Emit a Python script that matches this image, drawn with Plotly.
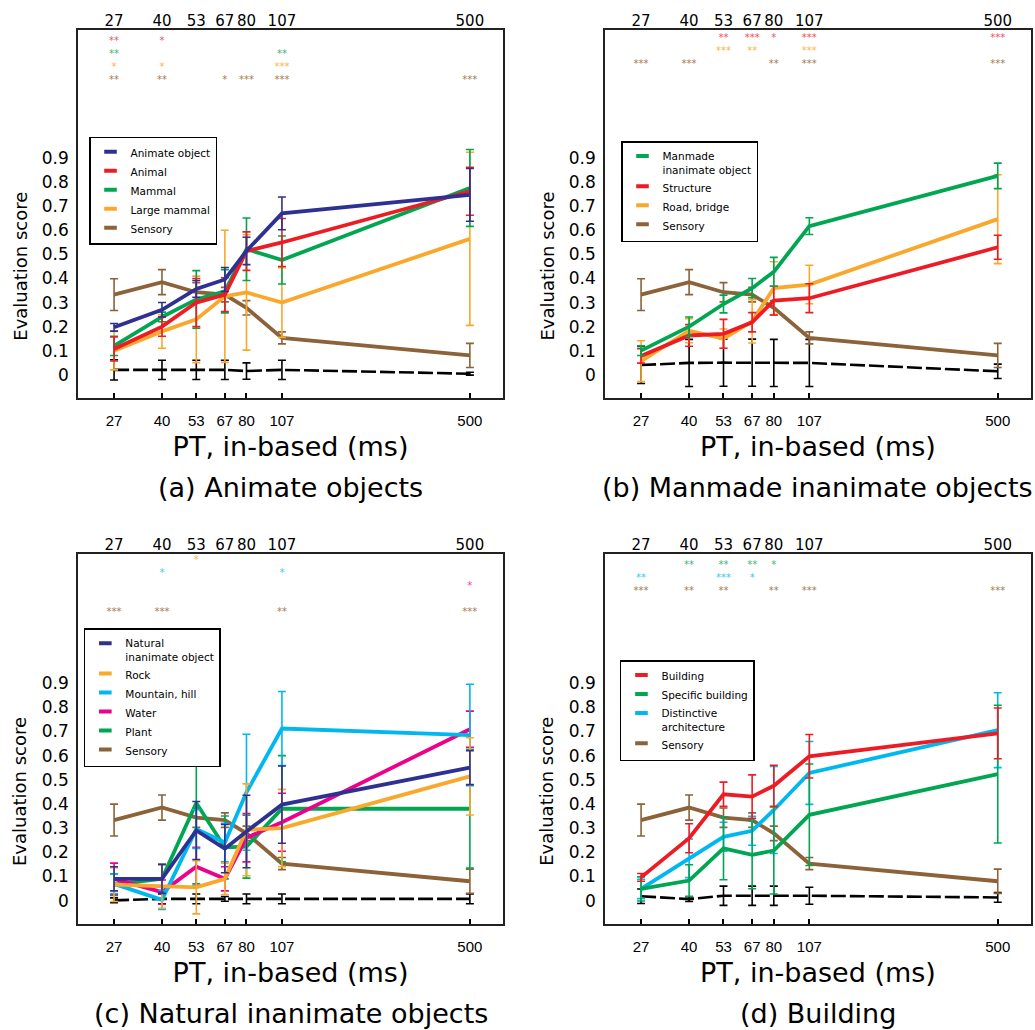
import plotly.graph_objects as go

# ---------------- data ----------------
pt_ms = [27, 40, 53, 67, 80, 107, 500]
pt_labels = ["27", "40", "53", "67", "80", "107", "500"]
y_tick_vals = [0, 0.1, 0.2, 0.3, 0.4, 0.5, 0.6, 0.7, 0.8, 0.9]
y_tick_labels = ["0", "0.1", "0.2", "0.3", "0.4", "0.5", "0.6", "0.7", "0.8", "0.9"]

sensory = [0.333, 0.385, 0.343, 0.333, 0.278, 0.153, 0.080]
sensory_err = [0.066, 0.052, 0.040, 0.030, 0.030, 0.025, 0.050]

# (a) Animate objects
a_chance = [0.020, 0.020, 0.020, 0.020, 0.015, 0.020, 0.004]
a_chance_err = [0.042, 0.040, 0.040, 0.040, 0.034, 0.040, 0.006]
a_animate = [0.197, 0.270, 0.357, 0.396, 0.515, 0.671, 0.748]
a_animate_err = [0.016, 0.030, 0.035, 0.050, 0.057, 0.068, 0.110]
a_animal = [0.107, 0.200, 0.300, 0.333, 0.514, 0.550, 0.763]
a_animal_err = [0.050, 0.040, 0.100, 0.070, 0.080, 0.100, 0.100]
a_mammal = [0.120, 0.240, 0.313, 0.347, 0.522, 0.477, 0.777]
a_mammal_err = [0.040, 0.020, 0.120, 0.090, 0.130, 0.100, 0.160]
a_large = [0.100, 0.180, 0.230, 0.326, 0.342, 0.300, 0.565]
a_large_err = [0.080, 0.070, 0.180, 0.275, 0.240, 0.145, 0.360]
a_stars_animal = ["**", "*", "", "", "", "", ""]
a_stars_mammal = ["**", "", "", "", "", "**", ""]
a_stars_large = ["*", "*", "", "", "", "***", ""]
a_stars_sensory = ["**", "**", "", "*", "***", "***", "***"]

# (b) Manmade inanimate objects
b_chance = [0.040, 0.049, 0.050, 0.050, 0.049, 0.049, 0.014]
b_chance_err = [0.077, 0.098, 0.098, 0.098, 0.098, 0.098, 0.030]
b_manmade = [0.100, 0.200, 0.294, 0.360, 0.428, 0.618, 0.827]
b_manmade_err = [0.020, 0.040, 0.037, 0.040, 0.060, 0.035, 0.053]
b_structure = [0.078, 0.163, 0.170, 0.218, 0.308, 0.318, 0.530]
b_structure_err = [0.030, 0.045, 0.060, 0.040, 0.060, 0.060, 0.050]
b_road = [0.056, 0.183, 0.150, 0.222, 0.360, 0.375, 0.647]
b_road_err = [0.085, 0.050, 0.040, 0.090, 0.110, 0.080, 0.185]
b_stars_structure = ["", "", "**", "***", "*", "***", "***"]
b_stars_road = ["", "", "***", "**", "", "***", ""]
b_stars_sensory = ["***", "***", "", "", "**", "***", "***"]

# (c) Natural inanimate objects
c_chance = [0.001, 0.007, 0.007, 0.007, 0.007, 0.007, 0.007]
c_chance_err = [0.010, 0.020, 0.020, 0.010, 0.020, 0.020, 0.020]
c_natural = [0.090, 0.090, 0.290, 0.215, 0.286, 0.397, 0.550]
c_natural_err = [0.050, 0.060, 0.120, 0.100, 0.150, 0.160, 0.070]
c_rock = [0.066, 0.058, 0.055, 0.090, 0.293, 0.300, 0.514]
c_rock_err = [0.070, 0.090, 0.110, 0.065, 0.190, 0.160, 0.160]
c_mountain = [0.069, 0.003, 0.296, 0.240, 0.448, 0.712, 0.685]
c_mountain_err = [0.040, 0.040, 0.080, 0.080, 0.240, 0.153, 0.210]
c_water = [0.090, 0.035, 0.140, 0.090, 0.260, 0.324, 0.709]
c_water_err = [0.065, 0.050, 0.080, 0.050, 0.100, 0.120, 0.075]
c_plant = [0.066, 0.090, 0.404, 0.220, 0.223, 0.380, 0.380]
c_plant_err = [0.045, 0.060, 0.335, 0.130, 0.130, 0.220, 0.245]
c_stars_rock = ["", "", "*", "", "", "", ""]
c_stars_mountain = ["", "*", "", "", "", "*", ""]
c_stars_water = ["", "", "", "", "", "", "*"]
c_stars_plant = ["", "", "", "", "", "", ""]
c_stars_sensory = ["***", "***", "", "", "", "**", "***"]

# (d) Building
d_chance = [0.018, 0.006, 0.020, 0.020, 0.020, 0.020, 0.013]
d_chance_err = [0.030, 0.010, 0.040, 0.040, 0.040, 0.035, 0.020]
d_building = [0.096, 0.258, 0.440, 0.430, 0.475, 0.597, 0.692]
d_building_err = [0.016, 0.060, 0.050, 0.090, 0.085, 0.090, 0.105]
d_specific = [0.048, 0.083, 0.216, 0.189, 0.207, 0.355, 0.523]
d_specific_err = [0.050, 0.065, 0.130, 0.140, 0.180, 0.210, 0.285]
d_distinct = [0.048, 0.175, 0.264, 0.289, 0.375, 0.528, 0.705]
d_distinct_err = [0.040, 0.080, 0.060, 0.060, 0.180, 0.130, 0.155]
d_stars_specific = ["", "**", "**", "**", "*", "", ""]
d_stars_distinct = ["**", "", "***", "*", "", "", ""]
d_stars_sensory = ["***", "**", "**", "", "**", "***", "***"]

# ---------------- styles ----------------
NAVY = "#2e3192"
RED = "#ed1c24"
GREEN = "#00a651"
ORANGE = "#f9a82b"
BROWN = "#8c6239"
CYAN = "#00b7ef"
MAGENTA = "#ec008c"
STAR_COL = {NAVY: "#5a5fb0", RED: "#f0505a", GREEN: "#3cb878", ORANGE: "#fbb44a",
            BROWN: "#a67c52", CYAN: "#3cc8f4", MAGENTA: "#f040a8"}

panels = [
    dict(series=[("Animate object", NAVY, a_animate, a_animate_err),
                 ("Animal", RED, a_animal, a_animal_err),
                 ("Mammal", GREEN, a_mammal, a_mammal_err),
                 ("Large mammal", ORANGE, a_large, a_large_err),
                 ("Sensory", BROWN, sensory, sensory_err)],
         chance=(a_chance, a_chance_err),
         stars=[(RED, a_stars_animal), (GREEN, a_stars_mammal),
                (ORANGE, a_stars_large), (BROWN, a_stars_sensory)],
         star_top=1.386, caption="(a) Animate objects"),
    dict(series=[("Manmade<br>inanimate object", GREEN, b_manmade, b_manmade_err),
                 ("Structure", RED, b_structure, b_structure_err),
                 ("Road, bridge", ORANGE, b_road, b_road_err),
                 ("Sensory", BROWN, sensory, sensory_err)],
         chance=(b_chance, b_chance_err),
         stars=[(RED, b_stars_structure), (ORANGE, b_stars_road), (BROWN, b_stars_sensory)],
         star_top=1.398, caption="(b) Manmade inanimate objects"),
    dict(series=[("Natural<br>inanimate object", NAVY, c_natural, c_natural_err),
                 ("Rock", ORANGE, c_rock, c_rock_err),
                 ("Mountain, hill", CYAN, c_mountain, c_mountain_err),
                 ("Water", MAGENTA, c_water, c_water_err),
                 ("Plant", GREEN, c_plant, c_plant_err),
                 ("Sensory", BROWN, sensory, sensory_err)],
         chance=(c_chance, c_chance_err),
         stars=[(ORANGE, c_stars_rock), (CYAN, c_stars_mountain), (MAGENTA, c_stars_water),
                (GREEN, c_stars_plant), (BROWN, c_stars_sensory)],
         star_top=1.407, caption="(c) Natural inanimate objects"),
    dict(series=[("Building", RED, d_building, d_building_err),
                 ("Specific building", GREEN, d_specific, d_specific_err),
                 ("Distinctive<br>architecture", CYAN, d_distinct, d_distinct_err),
                 ("Sensory", BROWN, sensory, sensory_err)],
         chance=(d_chance, d_chance_err),
         stars=[(GREEN, d_stars_specific), (CYAN, d_stars_distinct), (BROWN, d_stars_sensory)],
         star_top=1.386, caption="(d) Building"),
]

dom_x = [[0.0754, 0.4860], [0.5845, 0.9961], [0.0754, 0.4860], [0.5845, 0.9961]]
dom_y = [[0.6136, 0.9709], [0.6136, 0.9709], [0.1029, 0.4621], [0.1029, 0.4621]]
legend_pos = [(0.086, 0.867), (0.600, 0.863), (0.081, 0.390), (0.599, 0.359)]
x_range = [1.303, 2.817]
y_range = [-0.097, 1.434]
star_step = 0.054

fig = go.Figure()
layout = dict(width=1035, height=1030, margin=dict(l=0, r=0, t=0, b=0),
              paper_bgcolor="white", plot_bgcolor="white", showlegend=True,
              font=dict(family="DejaVu Sans", color="black"), annotations=[])

for i, p in enumerate(panels):
    s = i + 1
    sx = "" if s == 1 else str(s)
    xa, ya, xt = f"x{sx}", f"y{sx}", f"x{s + 4}"
    lg = "legend" if s == 1 else f"legend{s}"

    ch, ch_err = p["chance"]
    fig.add_trace(go.Scatter(
        x=pt_ms, y=ch, mode="lines", xaxis=xa, yaxis=ya, showlegend=False,
        line=dict(color="black", width=2.6, dash="15px,4px"),
        error_y=dict(type="data", array=ch_err, color="black", thickness=1.6, width=4),
        hoverinfo="skip"))
    for name, col, vals, errs in reversed(p["series"]):
        fig.add_trace(go.Scatter(
            x=pt_ms, y=vals, mode="lines", xaxis=xa, yaxis=ya, showlegend=False,
            line=dict(color=col, width=3.8),
            error_y=dict(type="data", array=errs, color=col, thickness=1.6, width=4),
            name=name.replace("<br>", " ")))
    for name, col, vals, errs in p["series"]:
        fig.add_trace(go.Scatter(
            x=[None], y=[None], mode="markers", xaxis=xa, yaxis=ya, name=name,
            legend=lg, showlegend=True, hoverinfo="skip",
            marker=dict(symbol="line-ew", size=9, color=col, line=dict(width=4, color=col))))
    for k, (col, strs) in enumerate(p["stars"]):
        fig.add_trace(go.Scatter(
            x=pt_ms, y=[p["star_top"] - k * star_step] * len(pt_ms), text=strs,
            mode="text", xaxis=xt, yaxis=ya, showlegend=False, hoverinfo="skip",
            textfont=dict(color=STAR_COL[col], size=10, family="DejaVu Sans")))

    layout[f"xaxis{sx}"] = dict(
        domain=dom_x[i], anchor=ya, type="log", range=x_range,
        tickmode="array", tickvals=pt_ms, ticktext=pt_labels,
        ticks="inside", ticklen=5, tickwidth=1.5, tickcolor="black",
        showline=True, linecolor="#222", linewidth=1.6, mirror=True,
        showgrid=False, zeroline=False, ticklabelstandoff=8,
        tickfont=dict(family="Liberation Sans", size=15),
        title=dict(text="PT, in-based (ms)", standoff=9,
                   font=dict(family="DejaVu Sans", size=27)))
    layout[f"xaxis{s + 4}"] = dict(
        overlaying=xa, anchor=ya, side="top", type="log", range=x_range,
        tickmode="array", tickvals=pt_ms, ticktext=pt_labels, ticks="",
        showline=False, showgrid=False, zeroline=False,
        tickfont=dict(family="DejaVu Sans", size=15))
    layout[f"yaxis{sx}"] = dict(
        domain=dom_y[i], anchor=xa, range=y_range,
        tickmode="array", tickvals=y_tick_vals, ticktext=y_tick_labels, ticks="",
        showline=True, linecolor="#222", linewidth=1.6, mirror=True,
        showgrid=False, zeroline=False, ticklabelstandoff=4,
        tickfont=dict(family="DejaVu Sans", size=17))
    lx, ly = legend_pos[i]
    layout[lg] = dict(x=lx, y=ly, xanchor="left", yanchor="top", bgcolor="white",
                      bordercolor="black", borderwidth=1.5, tracegroupgap=0,
                      itemwidth=30, valign="top",
                      font=dict(family="DejaVu Sans", size=10.5, color="black"))
    layout["annotations"].append(dict(
        text="Evaluation score", textangle=-90, showarrow=False,
        xref=f"{xa} domain", yref=ya, x=-0.136, y=0.45,
        xanchor="center", yanchor="middle",
        font=dict(family="DejaVu Sans", size=18)))
    layout["annotations"].append(dict(
        text=p["caption"], showarrow=False,
        xref=f"{xa} domain", yref=f"{ya} domain", x=0.5, y=-0.243,
        xanchor="center", yanchor="middle",
        font=dict(family="DejaVu Sans", size=27)))

fig.update_layout(**layout)
fig.write_html("out.html")
